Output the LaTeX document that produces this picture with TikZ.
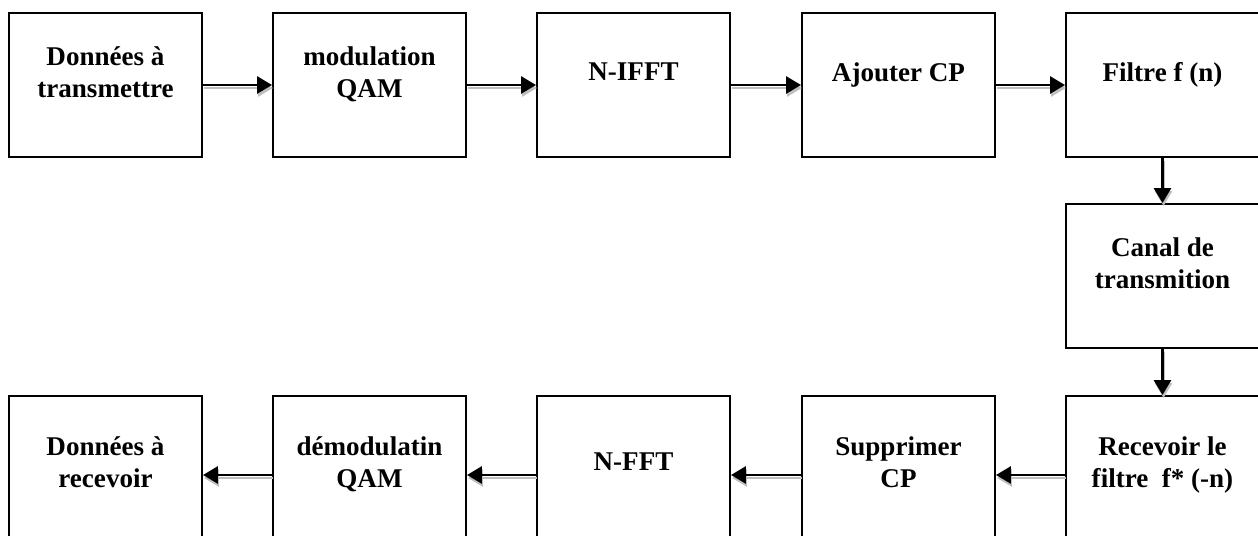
\documentclass[tikz,border=0pt]{standalone}
\usepackage{fontspec}
\setmainfont{Liberation Serif}
\usetikzlibrary{arrows.meta}

\begin{document}
\begin{tikzpicture}
  \tikzstyle{block}=[draw,line width=1.1pt,minimum width=3.86cm,minimum height=2.88cm,
    font=\fontsize{15.4}{18.6}\selectfont\bfseries,align=center,text depth=0.52cm,inner sep=0pt]
  \tikzstyle{low}=[minimum height=3.16cm]
  \tikzstyle{flow}=[line width=1.6pt,-{Triangle[length=0.3cm,width=0.34cm]},
    preaction={draw=gray!50,line width=1.6pt,-{Triangle[length=0.3cm,width=0.34cm]},
      transform canvas={shift={(0.02cm,-0.06cm)}}}]

  \useasboundingbox (0,0) rectangle (25.16,10.7);

  \node [block] (data) at (2.11,9.0) {Données à\\transmettre} ;
  \node [block] (mod) at (7.39,9.0) {modulation\\QAM} ;
  \node [block] (ifft) at (12.67,9.0) {N-IFFT} ;
  \node [block] (addcp) at (17.97,9.0) {Ajouter CP} ;
  \node [block] (filt) at (23.25,9.0) {Filtre f (n)} ;
  \path (data) edge[flow] (mod) ;
  \path (mod) edge[flow] (ifft) ;
  \path (ifft) edge[flow] (addcp) ;
  \path (addcp) edge[flow] (filt) ;

  \node [block] (chan) at (23.25,5.18) {Canal de\\transmition} ;
  \path (filt) edge[flow] (chan) ;

  \node [block,low] (rxfilt) at (23.25,1.2) {Recevoir le\\filtre~~f* (-n)} ;
  \node [block,low] (rmcp) at (17.97,1.2) {Supprimer\\CP} ;
  \node [block,low] (fft) at (12.67,1.2) {N-FFT} ;
  \node [block,low] (demod) at (7.39,1.2) {démodulatin\\QAM} ;
  \node [block,low] (out) at (2.11,1.2) {Données à\\recevoir} ;
  \path (chan) edge[flow] (rxfilt) ;
  \path (rxfilt) edge[flow] (rmcp) ;
  \path (rmcp) edge[flow] (fft) ;
  \path (fft) edge[flow] (demod) ;
  \path (demod) edge[flow] (out) ;

\end{tikzpicture}
\end{document}
